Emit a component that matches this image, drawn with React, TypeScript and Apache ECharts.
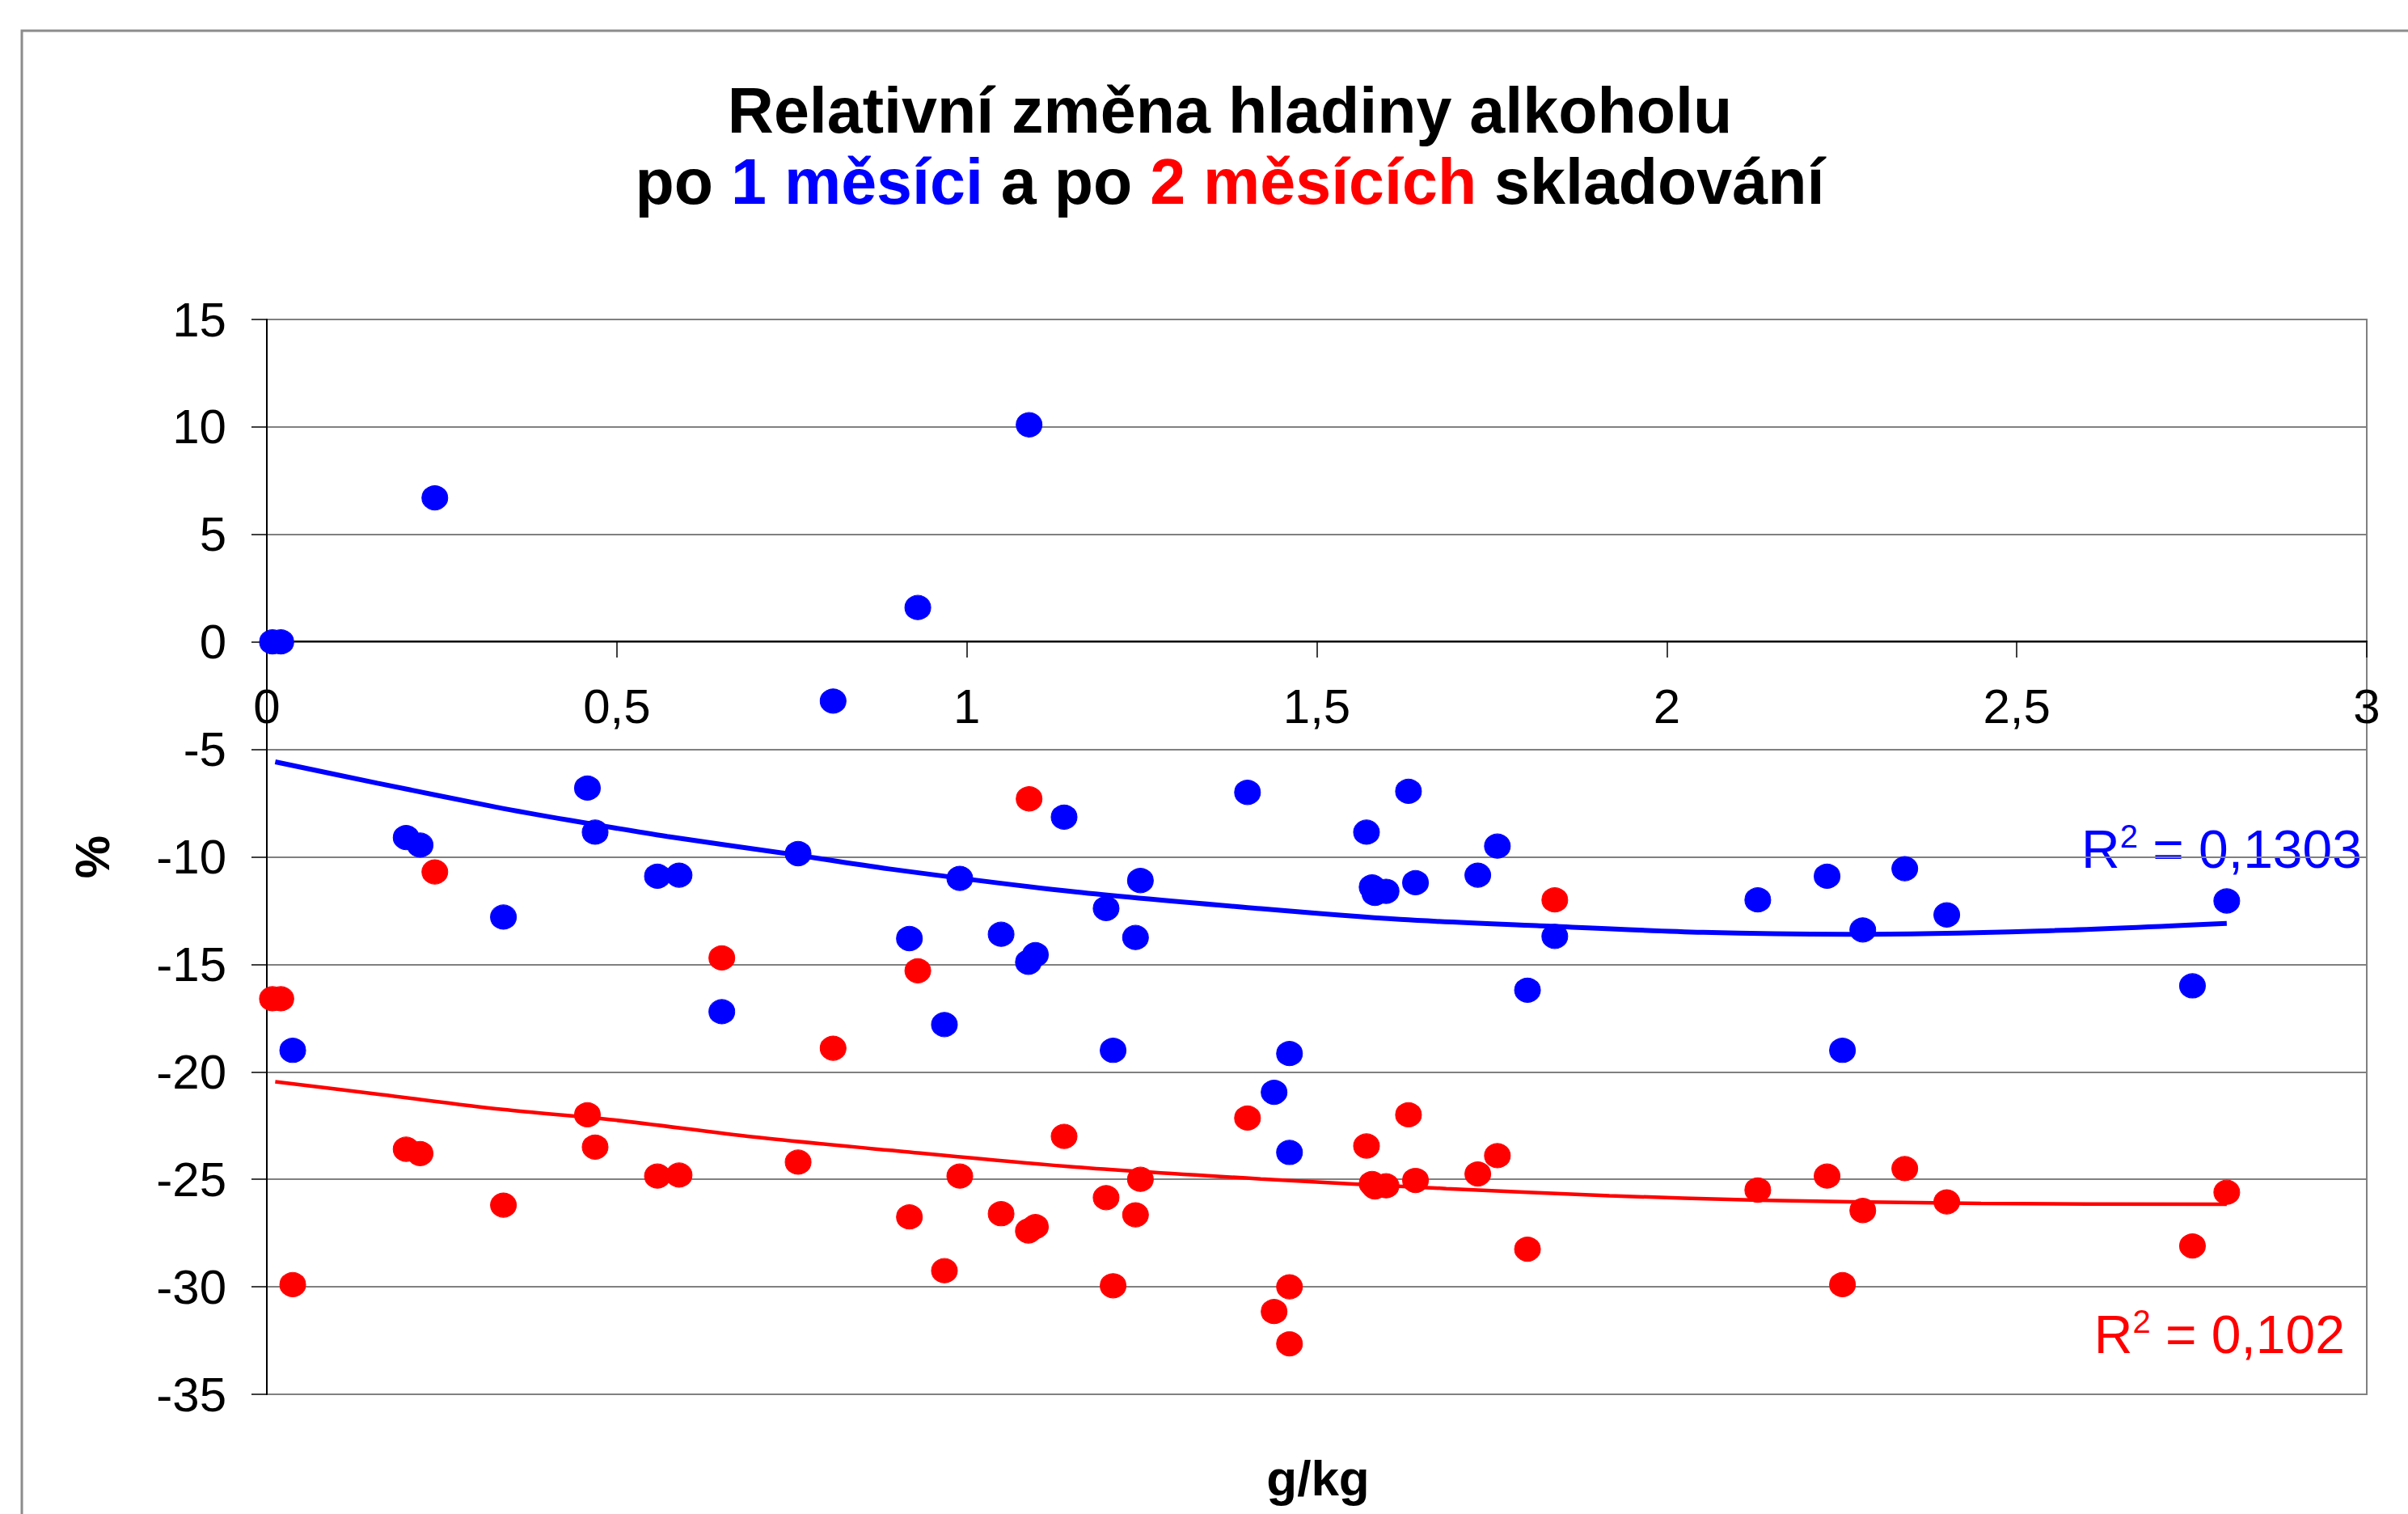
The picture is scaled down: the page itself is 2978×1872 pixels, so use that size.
import React, { useEffect, useRef } from 'react';
import * as echarts from 'echarts';

// Shared x values (g/kg)
const X_VALUES = [
  0.008, 0.020, 0.037, 0.199, 0.219, 0.240, 0.338, 0.458, 0.469, 0.558,
  0.589, 0.650, 0.759, 0.809, 0.918, 0.930, 0.968, 0.990, 1.049, 1.088,
  1.089, 1.098, 1.139, 1.199, 1.209, 1.241, 1.248, 1.401, 1.439, 1.461,
  1.461, 1.571, 1.579, 1.583, 1.599, 1.631, 1.641, 1.730, 1.758, 1.801,
  1.840, 2.130, 2.229, 2.251, 2.280, 2.340, 2.400, 2.751, 2.800,
];
// Relative change after 1 month (%)
const MONTH1 = [
  0.0, 0.0, -19.0, -9.1, -9.45, 6.7, -12.8, -6.8, -8.85, -10.9,
  -10.85, -17.2, -9.85, -2.75, -13.8, 1.6, -17.8, -11.0, -13.6, -14.9,
  10.1, -14.55, -8.15, -12.4, -19.0, -13.75, -11.1, -7.0, -20.95, -19.15,
  -23.75, -8.85, -11.4, -11.7, -11.6, -6.95, -11.2, -10.85, -9.5, -16.2,
  -13.7, -12.0, -10.9, -19.0, -13.4, -10.55, -12.7, -16.0, -12.05,
];
// Relative change after 2 months (%)
const MONTH2 = [
  -16.6, -16.6, -29.9, -23.6, -23.8, -10.7, -26.2, -22.0, -23.5, -24.85,
  -24.8, -14.7, -24.2, -18.9, -26.75, -15.3, -29.25, -24.85, -26.6, -27.4,
  -7.3, -27.2, -23.0, -25.85, -29.95, -26.65, -25.0, -22.15, -31.15, -30.0,
  -32.65, -23.45, -25.2, -25.35, -25.3, -22.0, -25.05, -24.75, -23.9, -28.25,
  -12.0, -25.5, -24.85, -29.9, -26.45, -24.5, -26.05, -28.1, -25.6,
];
// Trend lines
const TREND1_X = [0.012, 0.158, 0.327, 0.433, 0.572, 0.735, 0.889, 1.155, 1.42, 1.619, 1.814, 2.052, 2.259, 2.529, 2.8];
const TREND1_Y = [-5.58, -6.57, -7.68, -8.3, -9.05, -9.81, -10.56, -11.63, -12.41, -12.91, -13.2, -13.51, -13.6, -13.45, -13.09];
const TREND2_X = [0.012, 0.164, 0.337, 0.496, 0.695, 0.89, 1.155, 1.42, 1.685, 1.918, 2.131, 2.449, 2.8];
const TREND2_Y = [-20.46, -21.06, -21.75, -22.24, -23.03, -23.65, -24.43, -24.98, -25.43, -25.76, -25.97, -26.12, -26.16];

const R2_MONTH1 = '0,1303';
const R2_MONTH2 = '0,102';
const TITLE_LINE1 = 'Relativní změna hladiny alkoholu';
const X_NAME = 'g/kg';
const Y_NAME = '%';

const FONT = '"Liberation Sans", Arial, sans-serif';
const BLUE = '#0000FF';
const RED = '#FF0000';

function pairs(xs: number[], ys: number[]) {
  return xs.map((x, i) => [x, ys[i]]);
}

export default function App() {
  const ref = useRef<HTMLDivElement>(null);

  useEffect(() => {
    if (!ref.current) return;
    const chart = echarts.init(ref.current, undefined, { renderer: 'svg' });
    const markerStyle = (c: string) => ({
      color: c,
      borderColor: c,
      borderWidth: 1,
      opacity: 1,
    });
    const GRID_TOP = 395;
    const GRID_BOTTOM_Y = 1724;
    const ZERO_Y = 793;
    chart.setOption({
      animation: false,
      backgroundColor: '#ffffff',
      grid: {
        left: 330,
        top: GRID_TOP,
        right: 51,
        bottom: 1872 - GRID_BOTTOM_Y,
        show: true,
        borderColor: '#808080',
        borderWidth: 2,
        containLabel: false,
        outerBoundsMode: 'none',
      },
      xAxis: {
        type: 'value',
        min: 0,
        max: 3,
        interval: 0.5,
        position: 'bottom',
        offset: -(GRID_BOTTOM_Y - ZERO_Y),
        axisLine: { show: true, onZero: false, lineStyle: { color: '#000', width: 2 } },
        axisTick: { show: true, length: 20, lineStyle: { color: '#000', width: 1.5 } },
        axisLabel: {
          fontSize: 60,
          color: '#000',
          fontFamily: FONT,
          margin: 50,
          formatter: (v: number) => String(v).replace('.', ','),
        },
        splitLine: { show: false },
      },
      yAxis: {
        type: 'value',
        min: -35,
        max: 15,
        interval: 5,
        name: Y_NAME,
        nameLocation: 'middle',
        nameRotate: 90,
        nameGap: 186,
        nameTextStyle: { fontSize: 60, fontWeight: 'bold', color: '#000', fontFamily: FONT },
        axisLine: { show: true, onZero: false, lineStyle: { color: '#000', width: 2 } },
        axisTick: { show: true, length: 19, lineStyle: { color: '#000', width: 1.5 } },
        axisLabel: { fontSize: 60, color: '#000', fontFamily: FONT, margin: 50 },
        splitLine: { show: true, lineStyle: { color: '#808080', width: 2 } },
      },
      series: [
        {
          type: 'line',
          data: pairs(TREND1_X, TREND1_Y),
          showSymbol: false,
          smooth: 0.3,
          lineStyle: { color: BLUE, width: 6 },
          z: 1,
        },
        {
          type: 'line',
          data: pairs(TREND2_X, TREND2_Y),
          showSymbol: false,
          smooth: 0.3,
          lineStyle: { color: RED, width: 4.5 },
          z: 1,
        },
        {
          type: 'scatter',
          data: pairs(X_VALUES, MONTH2),
          symbol: 'circle',
          symbolSize: [32, 30],
          itemStyle: markerStyle(RED),
          z: 3,
        },
        {
          type: 'scatter',
          data: pairs(X_VALUES, MONTH1),
          symbol: 'circle',
          symbolSize: [32, 30],
          itemStyle: markerStyle(BLUE),
          z: 3,
        },
      ],
      graphic: [
        {
          type: 'rect',
          shape: { x: 27, y: 38, width: 3100, height: 2000 },
          style: { fill: 'none', stroke: '#8c8c8c', lineWidth: 3 },
          z: -10,
          silent: true,
        },
        {
          type: 'text',
          x: 1521,
          y: 92,
          style: {
            text:
              '{t|' + TITLE_LINE1 + '}\n{t|po }{b|1 měsíci}{t| a po }{r|2 měsících}{t| skladování}',
            align: 'center',
            verticalAlign: 'top',
            rich: {
              t: { fontSize: 79, fontWeight: 'bold', fill: '#000', fontFamily: FONT, lineHeight: 88 },
              b: { fontSize: 79, fontWeight: 'bold', fill: BLUE, fontFamily: FONT, lineHeight: 88 },
              r: { fontSize: 79, fontWeight: 'bold', fill: RED, fontFamily: FONT, lineHeight: 88 },
            },
          },
        },
        {
          type: 'text',
          x: 1630,
          y: 1827,
          style: {
            text: X_NAME,
            align: 'center',
            verticalAlign: 'middle',
            fontSize: 62,
            fontWeight: 'bold',
            fill: '#000',
            fontFamily: FONT,
          },
        },
        {
          type: 'text',
          x: 2921,
          y: 1050,
          style: {
            text: '{m|R}{s|2}{m| = ' + R2_MONTH1 + '}',
            align: 'right',
            verticalAlign: 'middle',
            rich: {
              m: { fontSize: 66, fill: BLUE, fontFamily: FONT },
              s: { fontSize: 40, fill: BLUE, fontFamily: FONT, padding: [0, 0, 32, 0] },
            },
          },
        },
        {
          type: 'text',
          x: 2900,
          y: 1650,
          style: {
            text: '{m|R}{s|2}{m| = ' + R2_MONTH2 + '}',
            align: 'right',
            verticalAlign: 'middle',
            rich: {
              m: { fontSize: 66, fill: RED, fontFamily: FONT },
              s: { fontSize: 40, fill: RED, fontFamily: FONT, padding: [0, 0, 32, 0] },
            },
          },
        },
      ],
    });
    return () => chart.dispose();
  }, []);

  return (
    <div
      ref={ref}
      style={{ position: 'absolute', left: 0, top: 0, width: 2978, height: 1872, background: '#fff' }}
    />
  );
}
